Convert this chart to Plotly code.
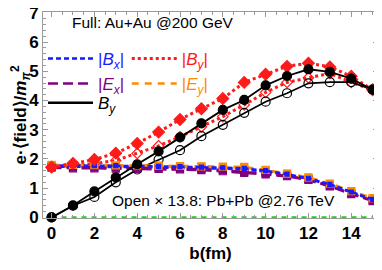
import plotly.graph_objects as go

b = list(range(16))

# Full: Au+Au @200 GeV
By_full = [0.0, 0.41, 0.89, 1.37, 1.82, 2.26, 2.74, 3.22, 3.68, 4.02, 4.52, 4.84, 5.07, 4.98, 4.75, 4.37]
absBy_full = [1.72, 1.85, 1.98, 2.2, 2.53, 2.92, 3.35, 3.72, 4.07, 4.62, 4.9, 5.17, 5.28, 5.15, 4.83, 4.37]
absBx_full = [1.78, 1.78, 1.77, 1.77, 1.76, 1.75, 1.74, 1.72, 1.70, 1.68, 1.60, 1.48, 1.34, 1.13, 0.87, 0.62]
absEx_full = [1.74, 1.72, 1.72, 1.71, 1.70, 1.69, 1.67, 1.65, 1.62, 1.56, 1.50, 1.43, 1.30, 1.08, 0.82, 0.58]
absEy_full = [1.80, 1.80, 1.79, 1.78, 1.78, 1.77, 1.76, 1.75, 1.74, 1.73, 1.63, 1.50, 1.37, 1.16, 0.90, 0.66]

# Open x 13.8: Pb+Pb @2.76 TeV
By_open = [0.0, 0.40, 0.70, 1.20, 1.64, 1.98, 2.30, 2.78, 3.17, 3.58, 3.96, 4.25, 4.59, 4.63, 4.63, 4.37]
absBy_open = [1.72, 1.78, 1.84, 1.95, 2.19, 2.45, 2.76, 3.10, 3.45, 3.85, 4.28, 4.62, 4.78, 4.93, 4.62, 4.37]
absBx_open = [1.74, 1.74, 1.73, 1.73, 1.72, 1.71, 1.70, 1.69, 1.67, 1.64, 1.57, 1.46, 1.32, 1.11, 0.85, 0.60]
absEx_open = [1.70, 1.68, 1.68, 1.67, 1.66, 1.66, 1.64, 1.62, 1.58, 1.52, 1.47, 1.41, 1.28, 1.06, 0.80, 0.56]
absEy_open = [1.78, 1.77, 1.77, 1.76, 1.76, 1.75, 1.74, 1.73, 1.72, 1.70, 1.61, 1.49, 1.35, 1.14, 0.88, 0.64]
err = [0.08] * 16
zero_line = [0.0] * 16

x_ticks = [0, 2, 4, 6, 8, 10, 12, 14]
y_ticks = [0, 1, 2, 3, 4, 5, 6, 7]

BLUE = "#1a1aff"
RED = "#ff1a1a"
PURPLE = "#800080"
ORANGE = "#ff8c00"
BLACK = "#000000"
GREEN = "#22cc22"

FONT = "Liberation Sans, Arial, sans-serif"

fig = go.Figure()

def add(y, color, dash, width, symbol, size, filled, errs=None, lw=1.2):
    fig.add_trace(go.Scatter(
        x=b, y=y, mode="lines+markers", showlegend=False,
        line=dict(color=color, dash=dash, width=width),
        marker=dict(symbol=symbol if filled else symbol + "-open", size=size,
                    color=color, line=dict(color=color, width=lw)),
        error_y=(dict(type="data", array=errs, color=color, thickness=1.5, width=3)
                 if errs is not None else None),
        cliponaxis=False,
    ))

# green zero line
fig.add_trace(go.Scatter(x=b, y=zero_line, mode="lines", showlegend=False,
                         line=dict(color=GREEN, dash="5px,5px", width=2.5)))

# open series
add(absEx_open, PURPLE, "10px,5px", 2.5, "square", 7, False, err)
add(absEy_open, ORANGE, "7px,6px", 2.5, "square", 7, False, err)
add(absBx_open, BLUE, "5px,3px", 2.5, "square", 4, False)
add(absBy_open, RED, "3px,3px", 3, "diamond", 8, False)
add(By_open, BLACK, "solid", 1.8, "circle", 9, False)

# full series
add(absEx_full, PURPLE, "10px,5px", 2.5, "square", 7, True, err)
add(absEy_full, ORANGE, "7px,6px", 2.5, "square", 7, True, err)
add(absBx_full, BLUE, "5px,3px", 2.5, "square", 4, True)
add(absBy_full, RED, "3px,3px", 3, "diamond", 9, True)
add(By_full, BLACK, "solid", 1.8, "circle", 9, True)

# legend-only traces
def leg(name, color, dash, width, legend):
    fig.add_trace(go.Scatter(x=[None], y=[None], mode="lines", name=name,
                             line=dict(color=color, dash=dash, width=width),
                             legend=legend))

leg(f"<span style='color:{BLUE}'>|<i>B</i><sub><i>x</i></sub>|</span>", BLUE, "5px,3px", 2.5, "legend")
leg(f"<span style='color:{PURPLE}'>|<i>E</i><sub><i>x</i></sub>|</span>", PURPLE, "10px,5px", 2.5, "legend")
leg(f"<span style='color:{RED}'>|<i>B</i><sub><i>y</i></sub>|</span>", RED, "3px,3px", 3, "legend2")
leg(f"<span style='color:{ORANGE}'>|<i>E</i><sub><i>y</i></sub>|</span>", ORANGE, "7px,6px", 2.5, "legend2")
leg("<i>B</i><sub><i>y</i></sub>", BLACK, "solid", 2.5, "legend3")

legend_common = dict(bgcolor="rgba(0,0,0,0)", borderwidth=0,
                     font=dict(family=FONT, size=17, color="black"),
                     tracegroupgap=0, itemwidth=45, xanchor="left", yanchor="top")

axis_font = dict(family=FONT, size=17, color="black", weight="bold")

fig.update_layout(
    width=382, height=270,
    margin=dict(l=35, r=12, t=4, b=60),
    paper_bgcolor="white", plot_bgcolor="white",
    legend=dict(x=0.0, y=0.86, **legend_common),
    legend2=dict(x=0.25, y=0.86, **legend_common),
    legend3=dict(x=0.0, y=0.645, **legend_common),
    xaxis=dict(range=[-0.4, 15.25], tickvals=x_ticks, ticks="inside", ticklen=5,
               tickcolor="#999", linecolor="#999", linewidth=1, mirror="allticks",
               showline=True, showgrid=False, zeroline=False, automargin=False,
               ticklabeloverflow="allow",
               minor=dict(dtick=0.5, ticks="inside", ticklen=3, tickcolor="#999"),
               tickfont=axis_font,
               title=dict(text="<b>b(fm)</b>", font=axis_font, standoff=4)),
    yaxis=dict(range=[-0.02, 7.03], tickvals=y_ticks, ticks="inside", ticklen=5,
               tickcolor="#999", linecolor="#999", linewidth=1, mirror="allticks",
               showline=True, showgrid=False, zeroline=False, automargin=False,
               ticklabeloverflow="allow",
               minor=dict(dtick=0.2, ticks="inside", ticklen=3, tickcolor="#999"),
               tickfont=axis_font,
               title=dict(text="<b>e·⟨field⟩/<i>m</i><sub><i>π</i></sub><sup>2</sup></b>",
                          font=dict(family=FONT, size=17, color="black"), standoff=2)),
    annotations=[
        dict(text="Full: Au+Au @200 GeV", x=0.08, y=0.95, xref="paper", yref="paper",
             xanchor="left", yanchor="middle", showarrow=False,
             font=dict(family=FONT, size=15.5, color="black")),
        dict(text="Open × 13.8: Pb+Pb @2.76 TeV", x=0.2, y=0.085, xref="paper", yref="paper",
             xanchor="left", yanchor="middle", showarrow=False,
             font=dict(family=FONT, size=15.5, color="black")),
    ],
)

fig.write_html("out.html")
